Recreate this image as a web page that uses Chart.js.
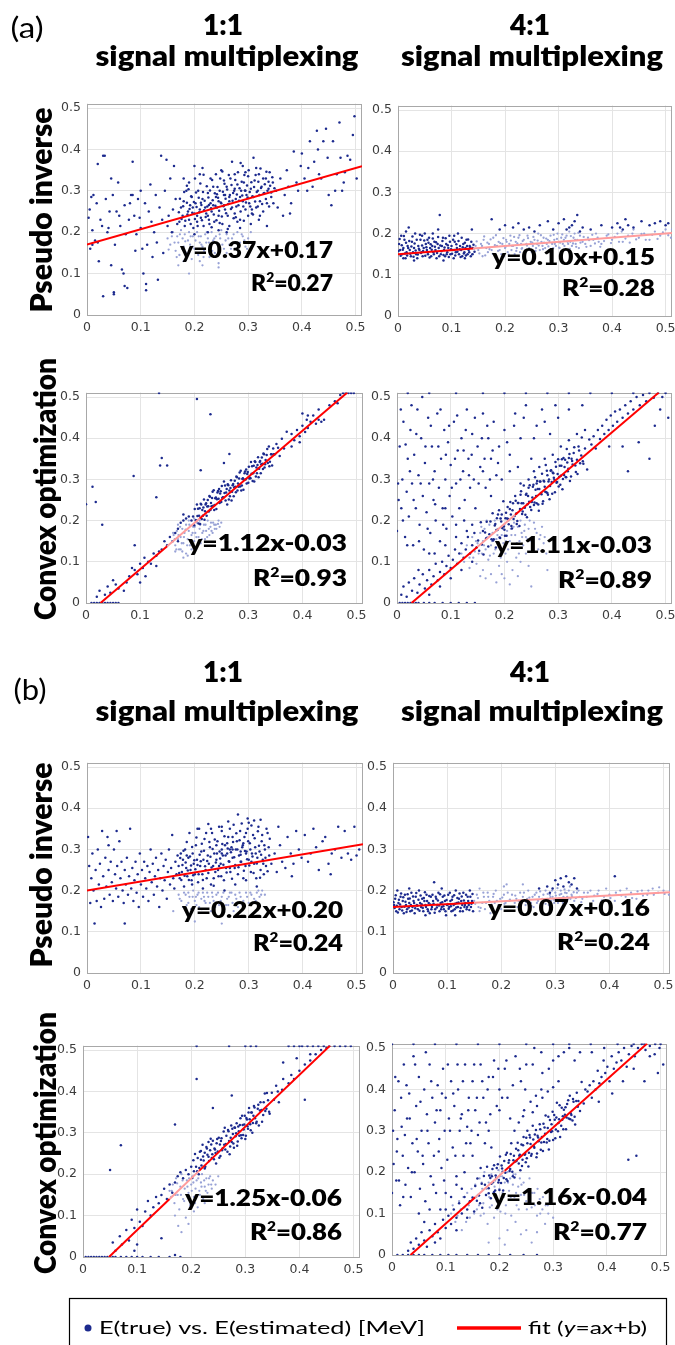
<!DOCTYPE html>
<html lang="en">
<head>
<meta charset="UTF-8">
<title>E(true) vs. E(estimated)</title>
<script src="https://cdn.jsdelivr.net/npm/chart.js"></script>
<style>
  body { margin: 0; width: 675px; height: 1345px; overflow: hidden; background: white; position: relative; }
  canvas.panel { position: absolute; }
  #labels { position: absolute; left: 0; top: 0; z-index: 5; pointer-events: none; }
</style>
</head>
<body>
<canvas id="labels" width="675" height="1345"></canvas>
<script>
// values in thousandths of MeV, flat x,y pairs: E(true), E(estimated)
// (a) pseudo inverse 1:1
const a1Dark = [3,235,5,255,8,285,10,205,12,290,15,180,18,270,20,365,22,130,25,230,28,215,30,385,33,385,35,280,38,200,40,210,42,250,45,120,48,290,50,55,
  52,170,55,250,58,320,60,240,62,215,65,110,68,100,70,265,72,195,75,65,78,230,80,270,82,290,85,370,88,240,90,155,92,195,95,280,98,235,100,210,
  103,160,105,100,108,270,110,60,112,170,115,250,118,315,120,225,122,140,125,200,128,290,130,175,132,85,135,260,138,385,140,230,142,150,145,300,
  148,375,150,215,152,240,155,330,158,200,160,255,162,360,165,280,168,220,30,45,50,50,70,70,110,75,20,175,10,170,6,160,45,330,85,290,100,300,
  172,225,175,260,178,240,180,275,182,215,185,300,188,250,190,230,192,265,195,285,198,210,200,245,202,270,205,225,207,300,210,255,212,235,215,280,
  217,215,220,260,222,245,225,295,227,230,230,270,232,250,235,310,237,225,240,285,242,260,245,240,247,300,250,270,252,220,255,290,257,255,260,310,
  262,240,265,275,267,330,270,260,272,295,275,245,277,280,280,315,282,265,285,230,287,300,290,275,292,320,295,255,297,290,300,335,302,270,305,305,
  307,245,310,285,312,325,315,260,318,300,320,340,322,275,325,310,328,250,330,295,333,330,335,270,338,305,340,345,343,285,346,320,190,320,200,360,
  210,340,230,330,250,350,270,370,290,360,310,380,200,195,225,200,245,205,265,215,285,210,305,220,180,330,215,355,240,340,260,200,280,225,300,240,
  320,230,335,215,255,325,275,340,295,345,315,355,235,265,245,275,255,265,265,285,285,285,295,300,275,305,225,240,205,240,
  171,248,173,281,176,232,179,263,181,297,183,228,186,271,187,243,189,304,191,256,193,220,194,287,196,247,199,273,201,232,203,296,204,261,206,215,
  208,283,209,248,211,318,213,266,214,229,216,297,218,253,219,276,221,237,223,311,224,262,226,284,228,220,229,301,231,258,233,326,234,277,236,243,
  238,294,239,264,241,229,243,309,244,283,246,252,248,330,249,272,251,238,253,298,254,263,256,317,258,281,259,246,261,303,263,268,264,338,266,290,
  268,256,269,314,271,276,273,234,274,300,276,326,278,262,279,291,281,345,283,276,284,306,286,250,288,322,289,289,291,262,293,338,294,301,296,272,
  298,313,299,284,301,350,303,297,304,262,306,321,308,287,309,243,311,309,313,274,314,338,316,297,318,262,319,322,321,290,323,354,324,307,326,268,
  328,330,329,294,331,316,333,280,334,346,336,300,338,322,339,262,341,312,343,296,345,333,347,270,349,306,232,212,247,222,262,208,277,236,292,228,
  307,255,322,240,186,312,201,330,217,339,252,347,286,367,197,260,212,271,227,266,242,292,257,290,
  352,300,355,260,360,330,365,240,368,290,372,350,375,310,378,245,380,270,385,395,390,320,393,300,398,360,400,390,405,330,410,300,412,355,415,420,
  420,310,423,370,428,445,430,400,432,340,436,330,440,420,445,450,448,380,450,290,455,265,458,420,462,300,465,340,470,465,472,380,475,300,478,320,
  480,345,485,385,490,375,495,435,498,480,502,330];
const a1Light = [150,185,155,170,160,200,165,155,168,190,170,175,172,145,175,205,178,185,180,165,182,195,185,150,188,180,190,200,192,170,195,135,
  197,190,200,160,202,180,205,200,207,145,210,175,212,190,215,165,218,155,220,195,222,175,225,185,228,140,230,165,232,200,235,180,238,150,240,190,
  243,170,245,125,248,185,250,205,255,160,258,180,260,195,265,170,270,185,275,160,280,200,285,175,290,190,295,165,300,185,305,200,190,100,170,120,
  210,130,260,150,152,158,158,190,163,175,167,140,173,195,177,160,183,178,187,145,193,190,197,165,203,150,208,190,213,170,217,140,223,200,227,175,
  233,155,237,185,242,145,247,195,252,170,257,140,263,185,268,160,273,195,278,175,283,150,288,195,293,180,298,160,303,175,245,115,180,130,215,120];
// (a) pseudo inverse 4:1
const a2Dark = [2,175,4,160,6,195,8,150,10,165,12,185,14,140,16,155,18,170,20,215,22,160,24,145,26,180,28,155,30,165,32,200,34,150,36,140,38,170,
  40,160,42,185,44,155,46,145,48,165,50,200,52,175,54,160,56,150,58,190,60,165,62,145,64,170,66,155,68,180,70,160,72,140,74,175,76,165,78,245,
  80,150,82,170,84,190,86,160,88,145,90,175,92,155,94,165,96,195,98,150,100,170,102,160,104,140,106,180,108,155,110,165,112,200,114,150,116,170,
  118,160,120,145,122,175,124,155,126,165,128,185,130,150,132,160,134,170,136,145,138,210,140,165,10,140,30,135,55,185,65,200,85,135,105,195,
  125,140,15,205,45,195,75,210,
  1,158,3,187,5,146,7,172,9,161,11,194,13,152,15,178,17,147,19,165,21,182,23,151,25,169,27,193,29,144,31,176,33,159,35,185,37,149,39,163,41,197,
  43,153,45,171,47,158,49,183,51,146,53,167,55,155,57,178,59,142,61,174,63,161,65,188,67,150,69,168,71,179,73,153,75,192,77,145,79,171,81,157,
  83,182,85,148,87,166,89,189,91,150,93,172,95,143,97,180,99,162,101,151,103,185,105,160,107,147,109,174,111,156,113,182,115,162,117,143,119,190,
  121,167,123,152,125,178,127,147,129,170,131,186,133,155,135,167,137,180,139,150,141,173,143,156,
  175,235,190,210,200,220,215,215,225,225,235,210,245,215,255,205,265,220,280,230,290,210,300,225,310,235,315,210,320,215,325,220,330,230,335,245,
  340,205,345,215,360,210,380,220,400,215,410,225,415,215,420,210,425,235,430,220,440,215,455,230,470,220,480,225,490,230,500,220,505,225];
const a2Light = [140,150,145,170,150,160,155,175,158,145,160,185,165,165,168,155,170,175,175,160,178,190,180,150,185,170,188,180,190,160,195,175,
  198,145,200,165,202,185,205,155,208,175,210,195,212,160,215,170,218,150,220,180,222,165,225,190,228,155,230,175,232,165,235,185,238,160,240,175,
  242,195,245,165,248,180,250,155,252,170,255,185,258,165,260,175,262,200,265,160,268,180,270,170,272,190,275,165,278,175,280,185,282,160,285,195,
  288,175,290,165,292,185,295,170,298,200,300,180,302,165,305,190,308,175,310,185,312,160,315,195,318,175,320,205,322,180,325,170,328,190,330,200,
  332,175,335,185,338,165,340,195,345,180,350,175,355,190,360,170,365,185,370,200,375,180,380,175,390,195,400,185,410,200,420,180,430,195,440,210,
  450,190,460,200,470,185,480,205,490,195,500,210,510,190,
  142,163,147,181,152,152,157,170,161,193,163,147,167,178,171,162,173,186,177,151,181,172,183,196,187,158,191,177,193,150,197,189,201,168,203,180,
  207,149,211,183,213,170,217,192,221,158,223,176,227,196,231,163,233,182,237,152,241,171,243,189,247,160,251,178,253,192,257,158,261,183,263,171,
  267,196,271,162,273,178,277,188,281,169,283,182,287,159,291,197,293,175,297,187,301,166,303,178,307,198,311,170,313,190,317,180,321,163,323,194,
  327,176,331,185,333,168,337,202,341,178,347,192,352,168,357,184,363,197,368,176,373,190,378,168,385,182,393,198,398,177,405,192,413,180,418,205,
  425,188,433,178,438,200,445,186,455,199,463,185,475,197,485,187,495,203,505,196,512,210];
// (a) convex optimization 1:1
const a3Dark = [198,210,200,189,201,228,203,201,205,239,206,211,208,193,210,230,211,192,213,239,215,226,216,212,218,251,220,223,221,239,223,212,
  225,250,226,235,228,260,230,226,231,243,233,255,235,236,236,274,238,238,240,256,241,228,243,268,245,253,246,277,248,266,250,245,251,284,253,257,
  255,295,256,267,258,249,260,277,261,239,263,286,265,273,266,259,268,298,270,270,271,286,273,259,275,297,276,282,278,307,280,273,281,290,283,302,
  285,283,286,321,288,285,290,303,291,275,293,315,295,300,296,324,298,313,300,292,301,331,303,304,305,342,306,314,308,296,310,333,311,295,313,342,
  315,329,316,315,318,354,320,326,321,342,323,315,325,353,326,338,328,363,330,329,332,347,334,359,336,340,338,380,340,343,342,361,344,334,346,375,
  349,361,352,386,355,377,358,357,362,399,366,375,371,416,
  204,200,207,229,209,212,212,241,214,204,217,232,219,202,222,242,224,234,227,222,229,258,232,235,234,270,237,226,239,254,242,252,244,272,247,243,
  249,271,252,255,254,256,257,285,259,268,262,288,264,251,267,279,269,249,272,289,274,281,277,269,279,305,282,282,284,317,287,273,289,301,292,299,
  294,319,297,290,299,318,302,302,304,303,307,332,309,315,312,344,314,307,317,335,319,305,322,345,324,337,327,325,329,361,331,337,335,374,339,332,
  343,361,347,361,
  10,0,15,0,20,0,25,0,30,0,35,0,40,0,45,0,50,0,55,0,60,0,20,15,25,30,35,20,40,40,45,25,50,55,55,45,60,35,70,30,75,50,80,65,85,85,90,80,95,70,
  100,95,105,85,108,110,110,65,115,100,120,95,125,120,130,115,135,125,140,130,145,150,150,140,155,160,160,150,165,170,170,180,175,195,180,200,
  185,205,190,210,195,200,90,140,100,50,130,90,
  0,240,12,282,18,245,30,190,88,308,137,334,140,352,150,334,130,257,135,510,205,495,230,458,212,322,265,362,255,340,180,215,170,150,
  380,410,385,395,390,420,395,405,400,430,405,415,408,445,410,425,415,440,420,455,425,435,430,445,435,440,440,445,400,460,410,455,450,480,460,490,
  470,505,475,510,480,510,485,510,490,510,495,510,465,485,430,470,380,380,395,390];
const a3Light = [160,150,162,165,165,140,168,175,170,155,172,130,175,160,178,180,180,145,182,170,185,190,188,155,190,175,192,140,195,165,198,185,
  200,150,202,170,205,195,208,160,210,180,212,145,215,170,218,190,220,155,222,175,225,200,228,165,230,185,232,175,235,195,238,180,240,190,245,200,
  250,195,175,130,185,120,195,130,165,125,180,110,170,190,190,200,200,205,210,200,
  161,170,164,155,167,130,171,165,174,185,177,145,181,160,184,178,187,140,191,190,194,150,197,170,201,185,204,160,207,140,211,190,214,155,217,175,
  221,190,224,160,227,180,231,195,234,170,237,190,241,180,244,192,247,185,178,125,188,115];
// (a) convex optimization 4:1
const a4Dark = [151,152,153,127,156,196,158,142,160,175,161,118,164,171,166,157,167,197,170,137,172,167,174,198,176,155,178,218,179,152,182,188,
  184,135,186,206,187,177,190,225,192,158,193,205,196,182,198,247,200,178,202,206,204,163,206,233,207,204,210,228,212,215,214,181,216,242,217,204,
  220,260,222,217,224,199,225,243,228,187,230,263,232,242,233,216,236,285,238,231,240,263,242,208,244,260,246,246,247,286,250,226,252,256,254,287,
  256,244,257,305,260,242,262,277,264,224,266,295,268,267,270,314,272,247,274,295,276,270,277,335,280,267,282,295,284,252,286,321,288,294,290,317,
  292,304,294,269,296,331,298,294,300,349,302,306,304,287,306,333,308,276,310,352,312,330,314,306,316,374,318,320,320,352,322,296,325,350,327,336,
  330,378,333,318,335,348,338,380,341,339,344,402,347,338,350,375,354,324,358,397,
  180,155,183,192,185,177,188,215,191,159,194,198,195,215,199,186,201,163,203,219,205,205,208,191,211,245,213,187,215,225,219,211,221,248,223,192,
  226,243,229,228,231,271,234,222,235,242,239,214,241,265,243,240,245,280,248,233,251,245,253,282,255,238,258,275,259,260,261,296,263,239,265,277,
  267,295,269,264,271,241,273,297,275,282,278,269,279,321,281,263,283,300,285,284,287,322,289,265,291,315,293,299,295,342,297,292,299,313,301,283,
  303,333,305,309,307,349,309,301,311,311,313,348,315,305,317,341,319,326,321,362,324,307,326,345,329,364,332,334,336,313,339,370,343,358,346,344,
  362,385,366,405,370,375,374,420,378,398,382,430,386,410,390,445,394,420,398,455,402,430,406,465,410,440,415,470,420,450,425,480,430,460,435,490,
  440,470,446,500,452,480,458,505,464,490,470,510,478,498,486,510,494,500,500,510,
  245,300,255,320,265,330,275,350,290,360,305,380,320,395,335,410,350,420,260,290,280,310,230,290,
  5,0,10,0,15,0,20,0,25,0,30,0,35,0,40,0,50,0,60,0,70,0,85,0,100,0,115,0,130,0,145,0,8,20,12,40,18,15,22,50,28,30,32,60,38,25,42,45,48,70,
  52,35,56,55,60,80,64,45,68,65,72,95,76,55,80,75,84,100,88,70,92,90,96,115,100,85,104,105,108,130,112,95,116,120,120,145,124,110,128,130,
  132,160,136,120,140,140,144,170,148,135,60,20,80,40,100,60,120,80,140,100,40,80,70,120,90,140,110,160,130,175,
  0,175,3,250,5,380,8,230,10,300,12,440,15,160,18,270,20,350,22,210,25,420,28,290,30,140,32,360,35,230,38,470,40,310,42,190,45,400,48,260,
  50,130,52,340,55,220,58,450,60,290,62,170,65,380,68,250,70,320,72,200,75,460,78,280,80,150,82,350,85,230,88,420,90,300,92,180,95,390,98,260,
  100,335,103,210,106,440,110,290,113,370,116,230,120,400,123,320,126,250,130,470,133,350,136,280,140,410,143,300,146,230,150,380,155,330,
  160,460,165,280,170,400,175,350,180,440,185,310,190,380,200,420,210,360,220,460,230,400,240,480,250,350,260,430,270,470,285,410,300,450,
  20,510,60,510,110,510,160,510,200,510,240,510,280,510,320,510,360,510,400,510,440,510,160,320,175,260,195,300,210,320,225,330,110,190,
  125,200,90,230,140,190,60,120,470,350,430,320,450,390,490,470,505,450,480,430,395,380,420,380,
  2,290,7,470,11,200,16,385,19,140,24,320,27,480,31,250,36,410,41,150,44,290,47,500,53,380,57,180,63,430,67,300,71,240,77,380,81,470,86,190,
  91,360,97,430,102,280,108,350,112,455,118,300,124,370,128,420,134,310,139,360,145,450,152,290,158,400,163,350,168,430,173,300,178,370,188,340,
  205,390,218,430,236,450,255,400,275,440,295,480,320,470,345,480];
const a4Light = [120,120,125,100,130,140,135,110,140,160,145,125,148,95,150,145,155,170,158,120,160,150,163,180,165,130,168,160,170,105,172,190,
  175,140,178,170,180,120,182,200,185,155,188,180,190,135,192,205,195,165,198,145,200,190,202,120,205,175,208,200,210,150,212,180,215,135,218,195,
  220,165,222,110,225,185,228,150,230,200,232,170,235,140,238,190,240,160,245,180,250,150,255,195,260,170,265,155,270,185,275,160,160,80,175,70,
  190,90,200,60,215,80,230,100,240,120,250,40,185,50,205,100,
  142,110,147,150,152,120,157,185,162,140,167,200,173,115,177,150,183,130,187,165,193,110,197,180,203,150,207,130,213,165,217,185,223,145,227,120,
  233,160,237,175,243,155,247,200,253,140,257,180,263,130,267,165,273,145,278,120,165,60,195,70,210,45,225,65,245,90,280,80,135,85,155,65];
// (b) pseudo inverse 1:1
const b1Dark = [2,330,4,260,6,170,8,230,10,290,12,200,14,120,16,250,18,175,20,300,22,215,24,265,26,160,28,345,30,235,32,180,34,280,36,210,38,330,
  40,250,42,190,44,270,46,220,48,175,50,300,52,240,54,205,56,260,58,185,60,320,62,230,64,270,66,200,68,170,70,250,72,215,74,280,76,190,78,235,
  80,350,82,205,84,255,86,175,88,225,90,270,92,195,94,240,96,160,98,290,100,215,102,250,104,185,106,270,108,230,110,205,112,260,114,175,116,245,
  118,300,120,220,122,265,124,190,126,235,128,280,130,210,132,250,134,160,136,230,138,290,140,200,142,260,144,225,146,275,148,180,150,245,152,300,
  154,215,156,255,158,335,160,230,162,205,164,270,166,240,168,285,70,120,40,310,55,345,
  170,260,172,230,174,290,176,245,178,275,180,210,182,300,184,255,186,235,188,280,190,340,192,250,194,225,196,290,198,265,200,240,202,310,204,275,
  206,220,208,350,210,260,212,295,214,240,216,275,218,325,220,250,222,230,224,285,226,265,228,305,230,215,232,340,234,260,236,290,238,245,240,275,
  242,320,244,235,246,295,248,265,250,345,252,285,254,225,256,310,258,255,260,290,262,330,264,270,266,245,268,305,270,280,272,360,274,255,276,300,
  278,320,280,240,282,285,284,345,286,270,288,305,290,230,292,330,294,260,296,295,298,350,300,275,302,315,304,245,306,290,308,335,310,265,312,305,
  314,230,316,280,318,355,320,295,322,250,324,320,326,275,328,240,330,300,332,260,335,340,338,285,280,385,310,370,250,355,230,350,300,365,240,310,
  260,315,270,330,290,315,250,300,285,295,265,300,295,290,
  171,243,173,279,175,226,177,262,179,297,181,236,183,268,185,318,187,249,189,226,191,283,193,261,195,306,197,237,199,274,201,252,203,329,205,262,
  207,240,209,287,211,271,213,314,215,226,217,297,219,259,221,340,223,272,225,243,227,318,229,282,231,256,233,301,235,230,237,324,239,268,241,290,
  243,250,245,355,247,278,249,235,251,313,253,263,255,332,257,285,259,244,261,302,263,271,265,350,267,293,269,229,271,318,273,281,275,262,277,339,
  279,300,281,257,283,322,285,287,287,363,289,310,291,248,293,296,295,340,297,276,299,320,301,261,303,300,305,358,307,283,309,243,311,327,313,290,
  315,266,317,344,319,309,321,231,323,287,325,335,327,265,329,310,331,280,333,350,335,247,337,305,339,326,195,215,215,205,235,212,255,200,275,215,
  295,225,315,210,205,350,225,362,262,368,298,375,322,372,185,285,245,260,265,255,285,270,305,270,250,290,270,300,
  342,265,348,290,352,245,358,310,362,270,368,255,372,330,378,290,383,265,388,345,393,300,398,280,404,335,410,270,415,290,420,350,425,305,430,250,
  437,320,442,330,448,265,454,290,460,300,466,355,472,280,478,345,484,290,490,275,496,355,500,285,505,300,452,240,380,235,355,355];
const b1Light = [170,190,175,175,180,195,185,165,190,185,193,155,197,200,200,175,205,190,208,160,212,180,215,195,220,170,225,185,230,150,235,175,
  240,190,245,165,250,185,255,155,260,180,265,195,270,170,275,190,280,160,285,185,290,175,295,195,300,170,305,190,310,180,315,195,320,185,325,200,
  330,190,188,195,202,185,218,175,232,195,262,165,272,150,250,120,200,125,160,150,
  172,180,178,160,183,190,188,170,196,185,203,165,207,195,213,155,217,185,223,195,228,170,233,185,238,160,243,195,248,175,253,195,258,165,263,185,
  268,195,277,180,283,195,288,165,297,185,303,195,313,175,318,200,323,190];
// (b) pseudo inverse 4:1
const b2Dark = [2,165,4,180,6,150,8,200,10,170,12,155,14,185,16,160,18,175,20,145,22,190,24,165,26,155,28,180,30,170,32,150,34,195,36,160,38,175,
  40,145,42,185,44,165,46,155,48,200,50,170,52,160,54,180,56,150,58,175,60,165,62,190,64,155,66,170,68,145,70,185,72,160,74,175,76,220,78,155,
  80,180,82,165,84,195,86,150,88,170,90,160,92,185,94,155,96,175,98,140,100,165,102,190,104,160,106,175,108,150,110,185,112,165,114,155,116,200,
  118,170,120,160,122,180,124,150,126,175,128,165,130,195,132,160,134,170,136,155,138,185,140,165,142,200,144,160,146,175,148,150,30,205,90,205,
  60,140,115,140,
  1,172,3,158,5,189,7,163,9,147,11,178,13,166,15,193,17,152,19,184,21,161,23,173,25,148,27,191,29,159,31,181,33,165,35,152,37,186,39,170,41,157,
  43,194,45,163,47,178,49,151,51,188,53,167,55,158,57,182,59,196,61,160,63,175,65,150,67,187,69,166,71,155,73,190,75,168,77,146,79,185,81,159,
  83,176,85,164,87,191,89,155,91,172,93,162,95,188,97,150,99,177,101,166,103,156,105,195,107,162,109,178,111,152,113,189,115,168,117,159,119,182,
  121,171,123,193,125,158,127,186,129,150,131,176,133,165,135,190,137,160,139,175,141,153,143,185,145,168,147,192,
  285,210,295,205,300,225,305,215,310,230,315,210,320,235,325,220,330,215,335,230,340,205,410,235,270,205,290,195];
const b2Light = [150,175,155,190,158,160,160,205,165,170,168,185,170,155,175,195,178,175,180,160,185,185,188,170,190,200,195,165,198,180,200,155,
  205,190,208,170,210,215,215,175,218,160,220,190,225,170,228,180,230,160,235,195,238,170,240,185,245,165,248,180,250,200,255,170,258,185,260,160,
  265,195,268,175,270,185,275,165,278,190,280,175,282,200,285,180,288,165,290,190,292,175,295,185,298,170,300,195,302,180,305,170,308,190,310,200,
  312,175,315,185,318,195,320,170,322,185,325,200,328,180,330,190,335,175,340,195,345,185,350,180,360,195,370,175,380,200,390,185,400,190,410,175,
  420,200,430,185,440,195,450,180,460,200,470,190,480,205,490,195,500,200,510,190,240,215,205,210,160,150,180,145,
  152,168,157,182,162,158,167,195,172,170,176,185,182,166,186,192,192,175,196,160,202,183,206,168,212,195,216,178,222,160,226,188,232,175,236,165,
  242,195,246,172,252,183,256,162,262,190,266,170,272,198,276,180,282,168,286,192,291,184,294,200,297,178,301,188,304,206,307,181,311,192,314,170,
  317,203,321,194,324,180,327,210,331,186,334,196,338,182,343,200,348,172,353,195,358,185,365,200,372,188,378,192,386,176,394,205,402,182,412,195,
  422,188,432,205,442,182,452,198,462,188,472,200,482,190,492,208,502,192,512,200];
// (b) convex optimization 1:1
const b3Dark = [200,218,202,191,204,234,205,207,207,249,209,218,211,207,212,239,214,200,216,254,218,235,219,221,221,271,223,233,225,252,226,218,
  228,266,230,247,232,278,233,232,235,258,237,272,239,248,240,281,242,236,244,260,246,226,247,275,249,255,251,288,253,272,254,244,256,287,258,262,
  260,303,261,271,263,260,265,293,267,254,268,307,270,280,272,267,274,318,275,278,277,297,279,264,281,312,282,292,284,323,286,279,288,304,290,319,
  292,294,294,341,296,295,298,320,300,285,302,336,304,316,306,349,308,333,310,306,312,349,314,324,316,365,318,335,320,323,323,358,325,318,328,374,
  330,355,333,343,336,395,339,358,342,379,345,346,349,397,353,380,357,414,362,374,368,404,
  215,215,218,256,222,243,225,214,229,262,232,242,236,286,238,239,243,262,245,251,248,285,252,240,255,280,257,258,262,312,264,273,269,304,271,248,
  273,288,276,310,278,274,280,313,283,299,285,269,287,315,289,293,291,335,293,287,295,319,297,308,299,341,301,293,303,332,305,310,307,360,309,321,
  311,349,313,300,315,341,317,361,321,327,324,368,327,354,331,327,334,374,337,353,340,396,344,351,
  5,0,10,0,15,0,20,0,25,0,30,0,35,0,40,0,45,0,50,0,55,0,60,0,70,0,80,0,90,0,100,0,110,0,125,0,140,0,160,0,180,0,
  55,35,60,15,68,50,72,30,80,65,85,40,90,90,95,70,100,115,105,85,110,75,115,110,120,135,125,100,130,120,135,145,140,130,145,150,150,165,155,140,
  160,175,165,155,170,180,175,195,180,205,185,190,190,210,195,200,100,30,95,15,145,45,170,5,
  50,210,70,270,170,320,210,430,240,360,275,390,385,440,410,380,370,470,395,480,420,490,
  210,510,270,510,300,510,310,510,320,510,380,510,400,510,415,510,425,510,435,510,445,510,455,510,465,510,475,510,485,510,495,510,405,510,390,510,
  380,420,390,430,400,450,410,465,420,475,430,490,440,500,450,505,360,400,370,430];
const b3Light = [160,160,163,145,166,175,169,130,172,190,175,150,178,115,180,170,182,200,185,140,188,165,190,95,192,185,195,155,198,125,200,175,
  202,195,205,145,208,165,210,185,212,120,215,160,218,180,220,200,222,140,225,170,228,190,230,155,232,175,235,195,238,165,240,185,245,175,250,195,
  176,75,182,60,195,80,170,100,205,110,225,130,
  164,160,171,150,174,178,181,150,184,185,187,135,193,170,196,190,201,160,204,180,207,130,213,190,216,150,219,170,224,185,227,160,233,190,237,175];
// (b) convex optimization 4:1
const b4Dark = [150,139,153,105,155,167,158,131,159,185,162,144,164,125,167,172,168,114,171,191,173,170,175,145,177,213,180,161,181,192,184,137,
  186,190,188,176,190,217,192,156,194,186,197,219,198,175,201,238,203,174,205,209,207,156,209,227,211,199,214,247,215,179,218,229,219,203,222,270,
  224,201,226,229,228,187,231,257,232,228,235,253,237,240,239,205,241,267,243,230,245,285,248,244,249,224,252,270,254,214,256,290,258,268,260,244,
  262,312,265,259,266,291,269,236,271,288,273,275,275,316,277,254,279,285,282,317,283,273,286,337,288,272,290,307,292,255,294,326,296,297,299,346,
  300,278,303,327,305,303,307,368,309,299,311,328,313,285,316,356,317,327,320,351,322,339,324,304,326,365,329,330,331,385,333,342,336,325,338,370,
  341,315,344,392,347,372,350,348,353,418,357,366,360,400,
  180,149,183,186,185,172,187,208,190,152,193,192,195,210,199,181,200,157,204,216,206,201,208,186,212,242,213,183,217,223,220,208,221,244,225,190,
  227,240,230,226,234,271,236,221,238,242,242,215,244,265,247,242,250,283,251,234,255,247,257,284,259,240,263,279,264,263,268,302,270,245,272,284,
  276,304,278,272,281,251,284,308,285,293,289,280,291,334,293,276,297,316,298,299,302,338,304,282,306,332,310,319,312,362,315,312,318,335,319,304,
  323,357,325,332,328,374,332,328,334,338,337,377,340,334,343,372,346,358,
  364,395,368,410,372,380,375,420,379,400,383,445,386,415,390,430,394,470,397,440,401,455,405,420,409,480,413,450,418,465,422,490,427,470,432,500,
  437,455,441,485,446,505,452,480,458,500,465,510,472,495,480,505,489,485,498,500,
  228,300,236,320,244,335,252,300,262,345,270,360,280,380,290,395,300,405,310,420,246,350,258,370,268,385,278,400,
  10,0,20,0,30,0,40,0,50,0,60,0,75,0,90,0,105,0,120,0,140,0,160,0,180,0,200,0,220,0,245,0,270,0,
  30,10,35,30,40,15,45,40,50,25,55,55,60,35,65,20,70,60,75,45,80,75,85,55,90,40,95,85,100,65,105,95,110,75,115,110,120,90,125,125,130,100,
  135,140,140,110,145,130,60,80,80,30,100,110,120,60,140,90,130,160,110,140,90,110,
  0,150,3,220,5,350,8,180,10,280,12,420,15,120,18,310,20,240,22,460,25,170,28,330,30,210,32,390,35,140,38,270,40,480,42,200,45,360,48,250,
  50,430,52,160,55,300,58,220,60,400,62,130,65,340,68,270,70,460,72,190,75,380,78,240,80,320,82,150,85,410,88,280,90,350,92,210,95,450,98,300,
  100,380,103,230,106,330,110,420,113,260,116,360,120,190,123,400,126,300,130,340,133,240,136,460,140,310,143,380,146,270,150,420,155,350,
  160,290,165,460,170,380,175,320,180,430,185,260,190,470,195,360,200,400,210,450,220,330,230,480,240,420,250,460,265,500,280,440,300,470,
  320,490,340,470,0,510,40,510,80,510,120,510,160,510,200,510,250,510,300,510,330,510,370,510,420,510,450,510,470,510,490,510,500,510,
  150,240,165,210,120,170,100,150,70,110,50,100,180,300,200,350,215,380,135,200,
  2,300,6,430,9,250,13,180,17,380,21,140,24,290,27,410,33,330,37,200,43,460,46,280,53,370,57,240,63,490,66,300,73,420,77,170,83,350,87,250,
  93,390,97,180,104,460,108,300,114,390,118,240,122,460,128,330,132,420,138,270,142,350,148,300,153,460,158,380,163,320,168,420,173,270,178,400,
  183,340,188,430,198,450,205,380,213,470,225,410,238,450,248,400,262,460,278,490,292,450,310,480,330,500,350,490,372,490,395,500,
  440,230,455,240,480,480,495,440,470,420,410,390,430,420,385,370,450,450,505,460];
const b4Light = [110,100,118,80,125,130,130,60,135,115,140,150,145,90,150,135,155,170,158,110,160,145,163,185,165,95,168,160,170,125,172,200,
  175,145,178,75,180,175,182,115,185,195,188,150,190,90,192,180,195,130,198,205,200,160,202,105,205,190,208,140,210,175,212,120,215,200,218,155,
  220,185,222,95,225,170,228,140,230,195,232,120,235,165,238,185,240,145,245,175,250,130,255,160,260,115,265,150,270,95,275,135,280,110,285,75,
  290,120,300,90,200,40,215,60,240,50,260,30,180,30,230,80,
  113,120,122,95,128,110,133,140,138,80,143,120,148,160,153,100,157,140,162,120,167,175,171,100,176,160,181,140,186,120,191,165,196,110,201,190,
  206,150,211,100,216,175,221,140,226,195,231,150,236,110,241,170,246,145,251,110,256,185,261,150,266,120,271,160,276,100,281,140,286,120,291,100,
  296,135,250,60,270,55,210,25];

const darkSets = [a1Dark, a2Dark, a3Dark, a4Dark, b1Dark, b2Dark, b3Dark, b4Dark];
const lightSets = [a1Light, a2Light, a3Light, a4Light, b1Light, b2Light, b3Light, b4Light];

// linear fits y = a*x + b and R^2 for each panel
const fitSlopes = [0.37, 0.10, 1.12, 1.11, 0.22, 0.07, 1.25, 1.16];
const fitIntercepts = [0.17, 0.15, -0.03, -0.03, 0.20, 0.16, -0.06, -0.04];
const r2Values = [0.27, 0.28, 0.93, 0.89, 0.24, 0.24, 0.86, 0.77];
// stretch of the fit line that runs under the light points
const paleFrom = [null, 0.14, 0.15, 0.15, null, 0.15, 0.16, 0.155];
const paleTo = [null, 0.52, 0.21, 0.22, null, 0.52, 0.215, 0.21];

const tickValues = [0, 0.1, 0.2, 0.3, 0.4, 0.5];
const colTitles = ['1:1', '4:1'];
const rowTitles = ['Pseudo inverse', 'Convex optimization'];

// page layout of the plot areas
const boxes = [
  {l: 87, t: 98, r: 362, b: 315}, {l: 398, t: 100, r: 672, b: 316},
  {l: 86, t: 387, r: 363, b: 603}, {l: 397, t: 387, r: 672, b: 603},
  {l: 87, t: 757, r: 363, b: 973}, {l: 393, t: 757, r: 670, b: 973},
  {l: 83, t: 1040, r: 360, b: 1257}, {l: 392, t: 1038, r: 667, b: 1255}
];
const eqPos = [
  {x: 333, y1: 250, y2: 283, w1: 153, w2: 82}, {x: 655, y1: 257, y2: 288, w1: 163, w2: 93},
  {x: 347, y1: 543, y2: 578, w1: 159, w2: 94}, {x: 652, y1: 545, y2: 580, w1: 157, w2: 94},
  {x: 343, y1: 910, y2: 943, w1: 161, w2: 90}, {x: 650, y1: 908, y2: 942, w1: 162, w2: 93},
  {x: 342, y1: 1198, y2: 1232, w1: 157, w2: 92}, {x: 647, y1: 1197, y2: 1232, w1: 155, w2: 94}
];

const X_MAX = 0.512, Y_MAX = 0.511;
const DARK = '#1c2a8e', LIGHT = '#98a2d6', RED = '#ff0000', PALE_RED = '#ff9c9c';
const labelCanvas = document.getElementById('labels');

function toPoints(flat) {
  const pts = [];
  for (let i = 0; i < flat.length; i += 2) pts.push({x: flat[i] / 1000, y: flat[i + 1] / 1000});
  return pts;
}

const boxPlugin = {
  id: 'box',
  beforeDatasetsDraw(chart) {
    const {ctx, chartArea: c} = chart;
    ctx.save();
    ctx.strokeStyle = '#a8a8a8';
    ctx.lineWidth = 1;
    ctx.strokeRect(Math.round(c.left) + 0.5, Math.round(c.top) + 0.5, Math.round(c.right - c.left) - 1, Math.round(c.bottom - c.top) - 1);
    ctx.restore();
  }
};

function makePanel(i) {
  const box = boxes[i];
  const padL = 34, padR = 14, padT = 8, padB = 24;
  const w = box.r - box.l + padL + padR, h = box.b - box.t + padT + padB;
  const cv = document.createElement('canvas');
  cv.className = 'panel';
  cv.width = w; cv.height = h;
  cv.style.width = w + 'px'; cv.style.height = h + 'px';
  cv.style.left = (box.l - padL) + 'px'; cv.style.top = (box.t - padT) + 'px';
  document.body.insertBefore(cv, labelCanvas);

  const a = fitSlopes[i], b = fitIntercepts[i];
  const x0 = Math.max(0, -b / a), x1 = Math.min(X_MAX, (Y_MAX - b) / a);
  let xs = [x0, x1];
  if (paleFrom[i] !== null) xs.push(Math.max(x0, paleFrom[i]), Math.min(x1, paleTo[i]));
  xs = [...new Set(xs)].sort((p, q) => p - q);
  const fitPts = xs.map(x => ({x: x, y: a * x + b}));
  const isPale = c => paleFrom[i] !== null && c.p0.parsed.x >= paleFrom[i] - 1e-6 && c.p1.parsed.x <= paleTo[i] + 1e-6;

  const tickFont = {family: 'DejaVu Sans', size: 12.5};
  new Chart(cv, {
    type: 'scatter',
    data: {
      datasets: [
        {type: 'line', data: fitPts, borderColor: RED, borderWidth: 2, pointRadius: 0, fill: false, order: 0,
          segment: {borderColor: c => isPale(c) ? PALE_RED : RED}},
        {data: toPoints(darkSets[i]), backgroundColor: DARK, pointRadius: 1.25, borderWidth: 0, order: 1},
        {data: toPoints(lightSets[i]), backgroundColor: LIGHT, pointRadius: 1.15, borderWidth: 0, order: 2}
      ]
    },
    options: {
      responsive: false,
      animation: false,
      events: [],
      layout: {padding: {left: 0, right: padR, top: padT, bottom: 0}},
      plugins: {legend: {display: false}, tooltip: {enabled: false}},
      scales: {
        x: {
          type: 'linear', min: 0, max: X_MAX,
          afterBuildTicks: s => { s.ticks = tickValues.map(v => ({value: v})); },
          afterFit: s => { s.height = padB; },
          grid: {color: '#e4e4e4', drawTicks: false},
          border: {display: false},
          ticks: {padding: 5, font: tickFont, color: '#3c3c3c', callback: v => v === 0 ? '0' : v.toFixed(1)}
        },
        y: {
          type: 'linear', min: 0, max: Y_MAX,
          afterBuildTicks: s => { s.ticks = tickValues.map(v => ({value: v})); },
          afterFit: s => { s.width = padL; },
          grid: {color: '#e4e4e4', drawTicks: false},
          border: {display: false},
          ticks: {padding: 6, font: tickFont, color: '#3c3c3c', callback: v => v === 0 ? '0' : v.toFixed(1)}
        }
      }
    },
    plugins: [boxPlugin]
  });
}

for (let i = 0; i < 8; i++) makePanel(i);

// ---- text layer ----
const lx = labelCanvas.getContext('2d');

// runs: [{t, sup, italic}], cy is the vertical centre of the capitals
function drawRuns(runs, x, cy, size, weight, targetW, align, rot) {
  const fontOf = r => `${r.italic ? 'italic ' : ''}${weight} ${r.sup ? size * 0.6 : size}px Lato`;
  let total = 0;
  runs.forEach(r => { lx.font = fontOf(r); r.w = lx.measureText(r.t).width; total += r.w; });
  const sx = targetW ? targetW / total : 1;
  lx.save();
  lx.translate(x, cy);
  if (rot) lx.rotate(rot);
  lx.scale(sx, 1);
  lx.fillStyle = '#000';
  lx.textBaseline = 'alphabetic';
  lx.textAlign = 'left';
  let px = align === 'right' ? -total : align === 'center' ? -total / 2 : 0;
  const base = 0.36 * size;
  runs.forEach(r => {
    lx.font = fontOf(r);
    lx.fillText(r.t, px, r.sup ? base - size * 0.42 : base);
    px += r.w;
  });
  lx.restore();
}
const txt = (t, x, cy, size, weight, w, align, rot) => drawRuns([{t: t}], x, cy, size, weight, w, align, rot);

function drawLabels() {
  // panel letters and column titles
  txt('(a)', 27, 28, 28, 'normal', 33, 'center');
  txt('(b)', 30, 690, 28, 'normal', 33, 'center');
  [[0, 25, 56], [655, 672, 711]].forEach(([dy, y1, y2]) => {
    txt(colTitles[0], 223, y1, 28, '800', 40, 'center');
    txt(colTitles[1], 530, y1, 28, '800', 40, 'center');
    txt('signal multiplexing', 227, y2, 28, '800', 263, 'center');
    txt('signal multiplexing', 532, y2, 28, '800', 262, 'center');
  });
  // row titles
  txt(rowTitles[0], 41, 210, 30, '800', 205, 'center', -Math.PI / 2);
  txt(rowTitles[1], 45, 489, 30, '800', 262, 'center', -Math.PI / 2);
  txt(rowTitles[0], 41, 865, 30, '800', 205, 'center', -Math.PI / 2);
  txt(rowTitles[1], 45, 1143, 30, '800', 262, 'center', -Math.PI / 2);

  // fit equations
  for (let i = 0; i < 8; i++) {
    const a = fitSlopes[i], b = fitIntercepts[i], p = eqPos[i];
    const eq = `y=${a.toFixed(2)}x${b >= 0 ? '+' : '-'}${Math.abs(b).toFixed(2)}`;
    txt(eq, p.x, p.y1, 22, '800', p.w1, 'right');
    drawRuns([{t: 'R'}, {t: '2', sup: true}, {t: '=' + r2Values[i].toFixed(2)}], p.x, p.y2, 22, '800', p.w2, 'right');
  }

  // legend
  lx.strokeStyle = '#000';
  lx.lineWidth = 1.2;
  lx.strokeRect(69.5, 1298.5, 597, 60);
  lx.fillStyle = DARK;
  lx.beginPath(); lx.arc(88, 1328, 3.5, 0, Math.PI * 2); lx.fill();
  txt('E(true) vs. E(estimated) [MeV]', 99, 1328, 18, 'normal', 326, 'left');
  lx.strokeStyle = RED;
  lx.lineWidth = 3.5;
  lx.beginPath(); lx.moveTo(457, 1328); lx.lineTo(521, 1328); lx.stroke();
  drawRuns([{t: 'fit ('}, {t: 'y', italic: true}, {t: '=a'}, {t: 'x', italic: true}, {t: '+b)'}], 528, 1328, 18, 'normal', 119, 'left');
}
drawLabels();
</script>
</body>
</html>
